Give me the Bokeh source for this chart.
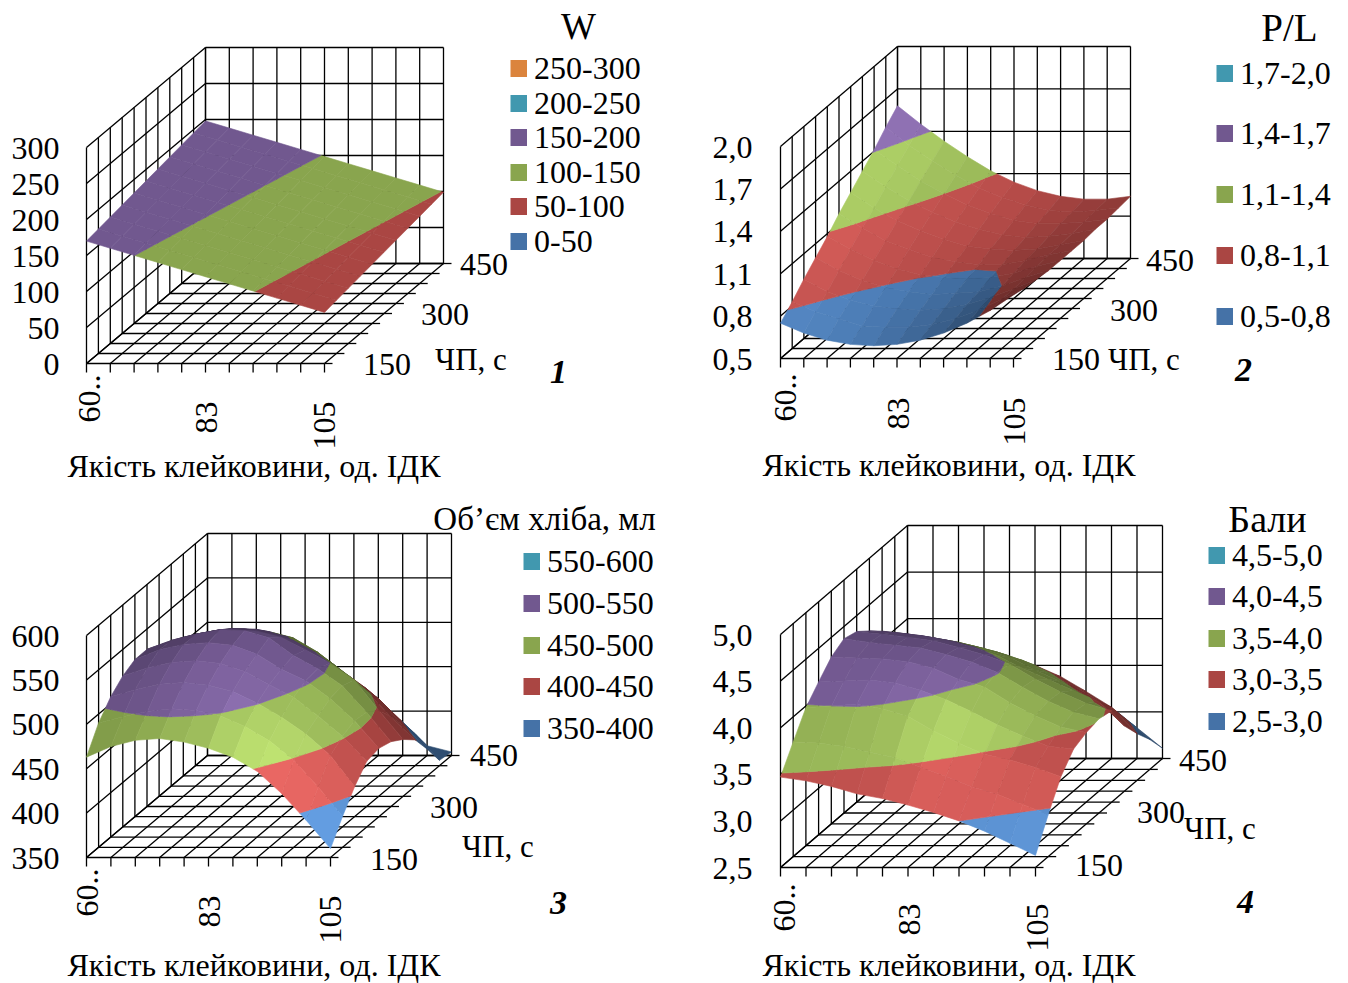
from math import pi, sqrt
from bokeh.plotting import figure
from bokeh.layouts import gridplot
from bokeh.models import Range1d
from bokeh.core.properties import value
from bokeh.embed import file_html
from bokeh.resources import INLINE

FONT = "Liberation Serif"
BLUE, RED, GREEN, PURPLE, TEAL, ORANGE = "#4572A7", "#AA4643", "#89A54E", "#71588F", "#4198AF", "#DB843D"

# Each grid: one list per gluten-quality step (60..105), values along ЧП (150..450)
W_Z = [
    [170, 172.8, 175.6, 178.4, 181.2, 184, 186.8, 189.6, 192.4, 195.2, 198],
    [160.1, 162.9, 165.7, 168.5, 171.3, 174.1, 176.9, 179.7, 182.5, 185.3, 188.1],
    [150.2, 153, 155.8, 158.6, 161.4, 164.2, 167, 169.8, 172.6, 175.4, 178.2],
    [140.3, 143.1, 145.9, 148.7, 151.5, 154.3, 157.1, 159.9, 162.7, 165.5, 168.3],
    [130.4, 133.2, 136, 138.8, 141.6, 144.4, 147.2, 150, 152.8, 155.6, 158.4],
    [120.5, 123.3, 126.1, 128.9, 131.7, 134.5, 137.3, 140.1, 142.9, 145.7, 148.5],
    [110.6, 113.4, 116.2, 119, 121.8, 124.6, 127.4, 130.2, 133, 135.8, 138.6],
    [100.7, 103.5, 106.3, 109.1, 111.9, 114.7, 117.5, 120.3, 123.1, 125.9, 128.7],
    [90.8, 93.6, 96.4, 99.2, 102, 104.8, 107.6, 110.4, 113.2, 116, 118.8],
    [80.9, 83.7, 86.5, 89.3, 92.1, 94.9, 97.7, 100.5, 103.3, 106.1, 108.9],
    [71, 73.8, 76.6, 79.4, 82.2, 85, 87.8, 90.6, 93.4, 96.2, 99],
]
PL_Z = [
    [.75, .83, .92, 1.00, 1.08, 1.17, 1.25, 1.33, 1.41, 1.50, 1.58],
    [.68, .76, .83, .91, .99, 1.07, 1.14, 1.22, 1.30, 1.37, 1.45],
    [.63, .71, .77, .84, .91, .98, 1.05, 1.12, 1.19, 1.26, 1.33],
    [.60, .66, .73, .79, .85, .92, .98, 1.04, 1.10, 1.16, 1.22],
    [.59, .65, .71, .76, .81, .86, .92, .97, 1.02, 1.07, 1.12],
    [.60, .65, .70, .74, .79, .83, .87, .92, .96, 1.00, 1.04],
    [.63, .67, .71, .75, .78, .81, .85, .88, .91, .95, .98],
    [.68, .71, .74, .76, .79, .81, .84, .86, .89, .91, .94],
    [.75, .77, .79, .80, .82, .84, .85, .87, .89, .90, .92],
    [.84, .85, .85, .86, .87, .88, .88, .89, .90, .91, .92],
    [.95, .93, .92, .91, .91, .91, .91, .92, .92, .93, .94],
]
VOL_Z = [
    [463, 490, 508, 520, 527, 527, 520, 512, 503, 495, 485],
    [475, 497, 516, 529, 538, 537, 529, 521, 512, 503, 491],
    [482, 503, 522, 535, 544, 544, 535, 526, 516, 504, 490],
    [484, 506, 524, 537, 546, 549, 538, 526, 515, 501, 483],
    [480, 504, 521, 534, 543, 548, 536, 522, 508, 494, 470],
    [473, 498, 514, 525, 533, 540, 529, 514, 493, 478, 455],
    [463, 486, 501, 510, 516, 520, 515, 499, 479, 457, 434],
    [447, 470, 485, 496, 503, 505, 500, 477, 457, 437, 414],
    [422, 448, 466, 475, 483, 486, 481, 457, 437, 412, 385],
    [392, 418, 442, 452, 458, 456, 447, 428, 407, 386, 361],
    [360, 385, 407, 424, 427, 423, 414, 402, 380, 356, 354],
]
SCORE_Z = [
    [3.47, 3.73, 3.98, 4.14, 4.29, 4.37, 4.33, 4.22, 4.10, 3.95, 3.80],
    [3.43, 3.72, 4.00, 4.15, 4.28, 4.33, 4.30, 4.20, 4.07, 3.92, 3.78],
    [3.37, 3.68, 4.02, 4.16, 4.27, 4.30, 4.27, 4.17, 4.03, 3.88, 3.74],
    [3.29, 3.62, 3.97, 4.13, 4.24, 4.27, 4.23, 4.12, 3.98, 3.83, 3.68],
    [3.24, 3.56, 3.89, 4.05, 4.17, 4.20, 4.16, 4.05, 3.91, 3.76, 3.60],
    [3.17, 3.46, 3.73, 3.95, 4.05, 4.12, 4.08, 3.96, 3.82, 3.67, 3.50],
    [3.09, 3.36, 3.60, 3.82, 3.97, 4.01, 3.98, 3.82, 3.68, 3.54, 3.38],
    [3.00, 3.25, 3.48, 3.68, 3.80, 3.85, 3.82, 3.70, 3.56, 3.40, 3.22],
    [2.89, 3.17, 3.42, 3.56, 3.66, 3.70, 3.68, 3.58, 3.41, 3.23, 3.05],
    [2.76, 3.06, 3.34, 3.45, 3.54, 3.58, 3.56, 3.46, 3.28, 3.05, 2.83],
    [2.63, 2.95, 3.24, 3.42, 3.48, 3.51, 3.48, 3.20, 3.00, 2.82, 2.61],
]

W_TICKS = ["0", "50", "100", "150", "200", "250", "300"]
PL_TICKS = ["0,5", "0,8", "1,1", "1,4", "1,7", "2,0"]
VOL_TICKS = ["350", "400", "450", "500", "550", "600"]
SCORE_TICKS = ["2,5", "3,0", "3,5", "4,0", "4,5", "5,0"]
W_LEGEND = ["250-300", "200-250", "150-200", "100-150", "50-100", "0-50"]
PL_LEGEND = ["1,7-2,0", "1,4-1,7", "1,1-1,4", "0,8-1,1", "0,5-0,8"]
VOL_LEGEND = ["550-600", "500-550", "450-500", "400-450", "350-400"]
SCORE_LEGEND = ["4,5-5,0", "4,0-4,5", "3,5-4,0", "3,0-3,5", "2,5-3,0"]
X_LABELS = ["60..", "83", "105"]
Y_LABELS = ["450", "300", "150"]
X_TITLE = "Якість клейковини, од. ІДК"
Y_TITLE = "ЧП, с"

LIGHT = (0.5, -0.6, 0.62)


def shade(col, f):
    rgb = [int(col[k:k + 2], 16) for k in (1, 3, 5)]
    f = max(0.28, min(1.4, f))
    extra = (f - 1) * 40 if f > 1 else 0
    out = [max(0, min(255, int(c * f + extra))) for c in rgb]
    return "#%02x%02x%02x" % tuple(out)


def clip(poly, lim, keep_above):
    out = []
    n = len(poly)
    for k in range(n):
        a, b = poly[k], poly[(k + 1) % n]
        ina = a[2] >= lim if keep_above else a[2] <= lim
        inb = b[2] >= lim if keep_above else b[2] <= lim
        if ina:
            out.append(a)
        if ina != inb:
            s = (lim - a[2]) / (b[2] - a[2])
            out.append((a[0] + s * (b[0] - a[0]), a[1] + s * (b[1] - a[1]), lim))
    return out


def brightness(d):
    if d > 0.93:
        return 1.12 + 3.3 * (d - 0.93)
    if d > 0.78:
        return 1 + 0.8 * (d - 0.78)
    return 1 + 0.9 * (d - 0.78)


def cell_dots(Z, span):
    out = []
    for i in range(10):
        row = []
        for j in range(10):
            dzx = ((Z[i + 1][j] + Z[i + 1][j + 1] - Z[i][j] - Z[i][j + 1]) / 2) / span * 0.9 * 10
            dzy = ((Z[i][j + 1] + Z[i + 1][j + 1] - Z[i][j] - Z[i + 1][j]) / 2) / span * 0.9 * 10
            nrm = sqrt(dzx * dzx + dzy * dzy + 1)
            row.append((-dzx * LIGHT[0] - dzy * LIGHT[1] + LIGHT[2]) / nrm)
        out.append(row)
    # the readings are approximate: average neighbours so shading varies gently
    smooth = []
    for i in range(10):
        row = []
        for j in range(10):
            tot, wt = 0.0, 0.0
            for a in (i - 1, i, i + 1):
                for b in (j - 1, j, j + 1):
                    if 0 <= a < 10 and 0 <= b < 10:
                        w = 2.0 if (a == i and b == j) else 1.0
                        tot += w * out[a][b]
                        wt += w
            row.append(tot / wt)
        smooth.append(row)
    return smooth


def panel(ranges, Z, ticks, geom, legend, colors, swatch_ys, sw_x, title, title_pos, title_size,
          ylab, ytitle_pos, xlab, xtitle_pos, number, number_pos, tick_right):
    x0, x1, y0, y1 = ranges
    p = figure(width=x1 - x0, height=y1 - y0, x_range=Range1d(x0, x1), y_range=Range1d(y1, y0),
               toolbar_location=None, output_backend="svg", min_border=0)
    p.axis.visible = False
    p.grid.visible = False
    p.outline_line_color = None
    p.background_fill_color = "white"

    fx, fy, wx, bx, by, h = geom  # front-left floor corner, floor width, depth shift, wall height
    zmin = float(ticks[0].replace(",", "."))
    zmax = float(ticks[-1].replace(",", "."))
    zn = len(ticks) - 1

    def px(i, j):
        return fx + wx * i / 10 + bx * j / 10

    def py(j, z):
        return fy - by * j / 10 - h * (z - zmin) / (zmax - zmin)

    xs, ys = [], []
    def seg(a, b):
        xs.append([a[0], b[0]]); ys.append([a[1], b[1]])

    for k in range(zn + 1):
        z = zmin + (zmax - zmin) * k / zn
        seg((px(0, 0), py(0, z)), (px(0, 10), py(10, z)))
        seg((px(0, 10), py(10, z)), (px(10, 10), py(10, z)))
    for i in range(11):
        seg((px(i, 10), py(10, zmin)), (px(i, 10), py(10, zmax)))
        seg((px(i, 0), py(0, zmin)), (px(i, 10), py(10, zmin)))
        seg((px(i, 0), py(0, zmin)), (px(i, 0), py(0, zmin) + 9))
    for j in range(11):
        seg((px(0, j), py(j, zmin)), (px(10, j), py(j, zmin)))
        seg((px(10, j), py(j, zmin)), (px(10, j) + 8, py(j, zmin)))
        seg((px(0, j), py(j, zmin)), (px(0, j), py(j, zmax)))
    p.multi_line(xs, ys, line_color="#000000", line_width=1.3)

    bands = [(zmin + (zmax - zmin) * k / zn, zmin + (zmax - zmin) * (k + 1) / zn) for k in range(zn)]
    band_colors = list(reversed(colors))
    pxs, pys, cols = [], [], []
    span = zmax - zmin
    dots = cell_dots(Z, span)
    for j in range(9, -1, -1):
        for i in range(10):
            q = [(i, j, Z[i][j]), (i + 1, j, Z[i + 1][j]), (i + 1, j + 1, Z[i + 1][j + 1]), (i, j + 1, Z[i][j + 1])]
            f = brightness(dots[i][j])
            for (lo, hi), c in zip(bands, band_colors):
                poly = clip(q, lo, True)
                if poly:
                    poly = clip(poly, hi, False)
                if len(poly) >= 3:
                    pxs.append([px(a, b) for a, b, z in poly])
                    pys.append([py(b, z) for a, b, z in poly])
                    cols.append(shade(c, f))
    p.patches(pxs, pys, fill_color=cols, line_color=cols, line_width=0.6)

    def txt(x, y, s, size, align="left", angle=0, style="normal"):
        p.text([x], [y], text=[s], text_font=value(FONT), text_font_size=value(size), text_align=align,
               text_baseline="middle", angle=angle, text_color="#000000", text_font_style=style)

    for k, s in enumerate(ticks):
        z = zmin + (zmax - zmin) * k / zn
        txt(tick_right - 1, py(0, z) + 0.5, s, "32px", "right")
    for (x, y), s in zip(ylab, Y_LABELS):
        txt(x - 0.5, y - 1, s, "32px")
    for (x, y), s in zip(xlab, X_LABELS):
        txt(x - 1, y, s, "32px", "right", pi / 2)
    txt(ytitle_pos[0] - 0.5, ytitle_pos[1] - 1, Y_TITLE, "31px")
    txt(xtitle_pos[0] - 0.5, xtitle_pos[1] - 1.5, X_TITLE, "32px", "center")
    txt(number_pos[0], number_pos[1] - 1, number, "34px", "center", style="bold italic")
    txt(title_pos[0], title_pos[1] - 1.5, title, title_size, "center")
    for s, c, yy in zip(legend, colors, swatch_ys):
        p.quad(left=[sw_x], right=[sw_x + 16.5], top=[yy - 8.5], bottom=[yy + 8.5], fill_color=c, line_color=None)
        txt(sw_x + 23.5, yy, s, "32px")
    return p


p1 = panel((0, 674, 0, 491), W_Z, W_TICKS, (86, 363, 238, 119, 100, 216), W_LEGEND,
           [ORANGE, TEAL, PURPLE, GREEN, RED, BLUE], [68, 103, 137, 172, 206, 241], 510,
           "W", (578, 27), "37px", [(460, 265), (421, 315), (363, 365)], (435, 360),
           [(90, 374), (207, 401), (325, 401)], (254, 467), "1", (558, 372), 60)
p2 = panel((674, 1348, 0, 491), PL_Z, PL_TICKS, (780, 358, 233, 117, 100, 212), PL_LEGEND,
           [TEAL, PURPLE, GREEN, RED, BLUE], [73, 133, 194, 255, 316], 1216,
           "P/L", (1289, 28), "39px", [(1146, 261), (1110, 311), (1052, 360)], (1108, 360),
           [(786, 373), (899, 397), (1015, 397)], (949, 466), "2", (1243, 370), 753)
p3 = panel((0, 674, 491, 983), VOL_Z, VOL_TICKS, (86, 857, 244, 121, 102, 222), VOL_LEGEND,
           [TEAL, PURPLE, GREEN, RED, BLUE], [561, 603, 645, 686, 728], 523,
           "Об’єм хліба, мл", (544, 520), "33px", [(470, 756), (430, 808), (370, 860)], (462, 847),
           [(88, 868), (210, 895), (331, 895)], (254, 966), "3", (558, 903), 60)
p4 = panel((674, 1348, 491, 983), SCORE_Z, SCORE_TICKS, (780, 867, 255, 127, 109, 233), SCORE_LEGEND,
           [TEAL, PURPLE, GREEN, RED, BLUE], [555, 596, 638, 679, 721], 1208,
           "Бали", (1267, 520), "38px", [(1179, 761), (1137, 813), (1075, 866)], (1184, 829),
           [(785, 883), (910, 903), (1038, 903)], (949, 966), "4", (1245, 902), 753)

grid = gridplot([[p1, p2], [p3, p4]], toolbar_location=None)
open("out.html", "w").write(file_html(grid, INLINE))
